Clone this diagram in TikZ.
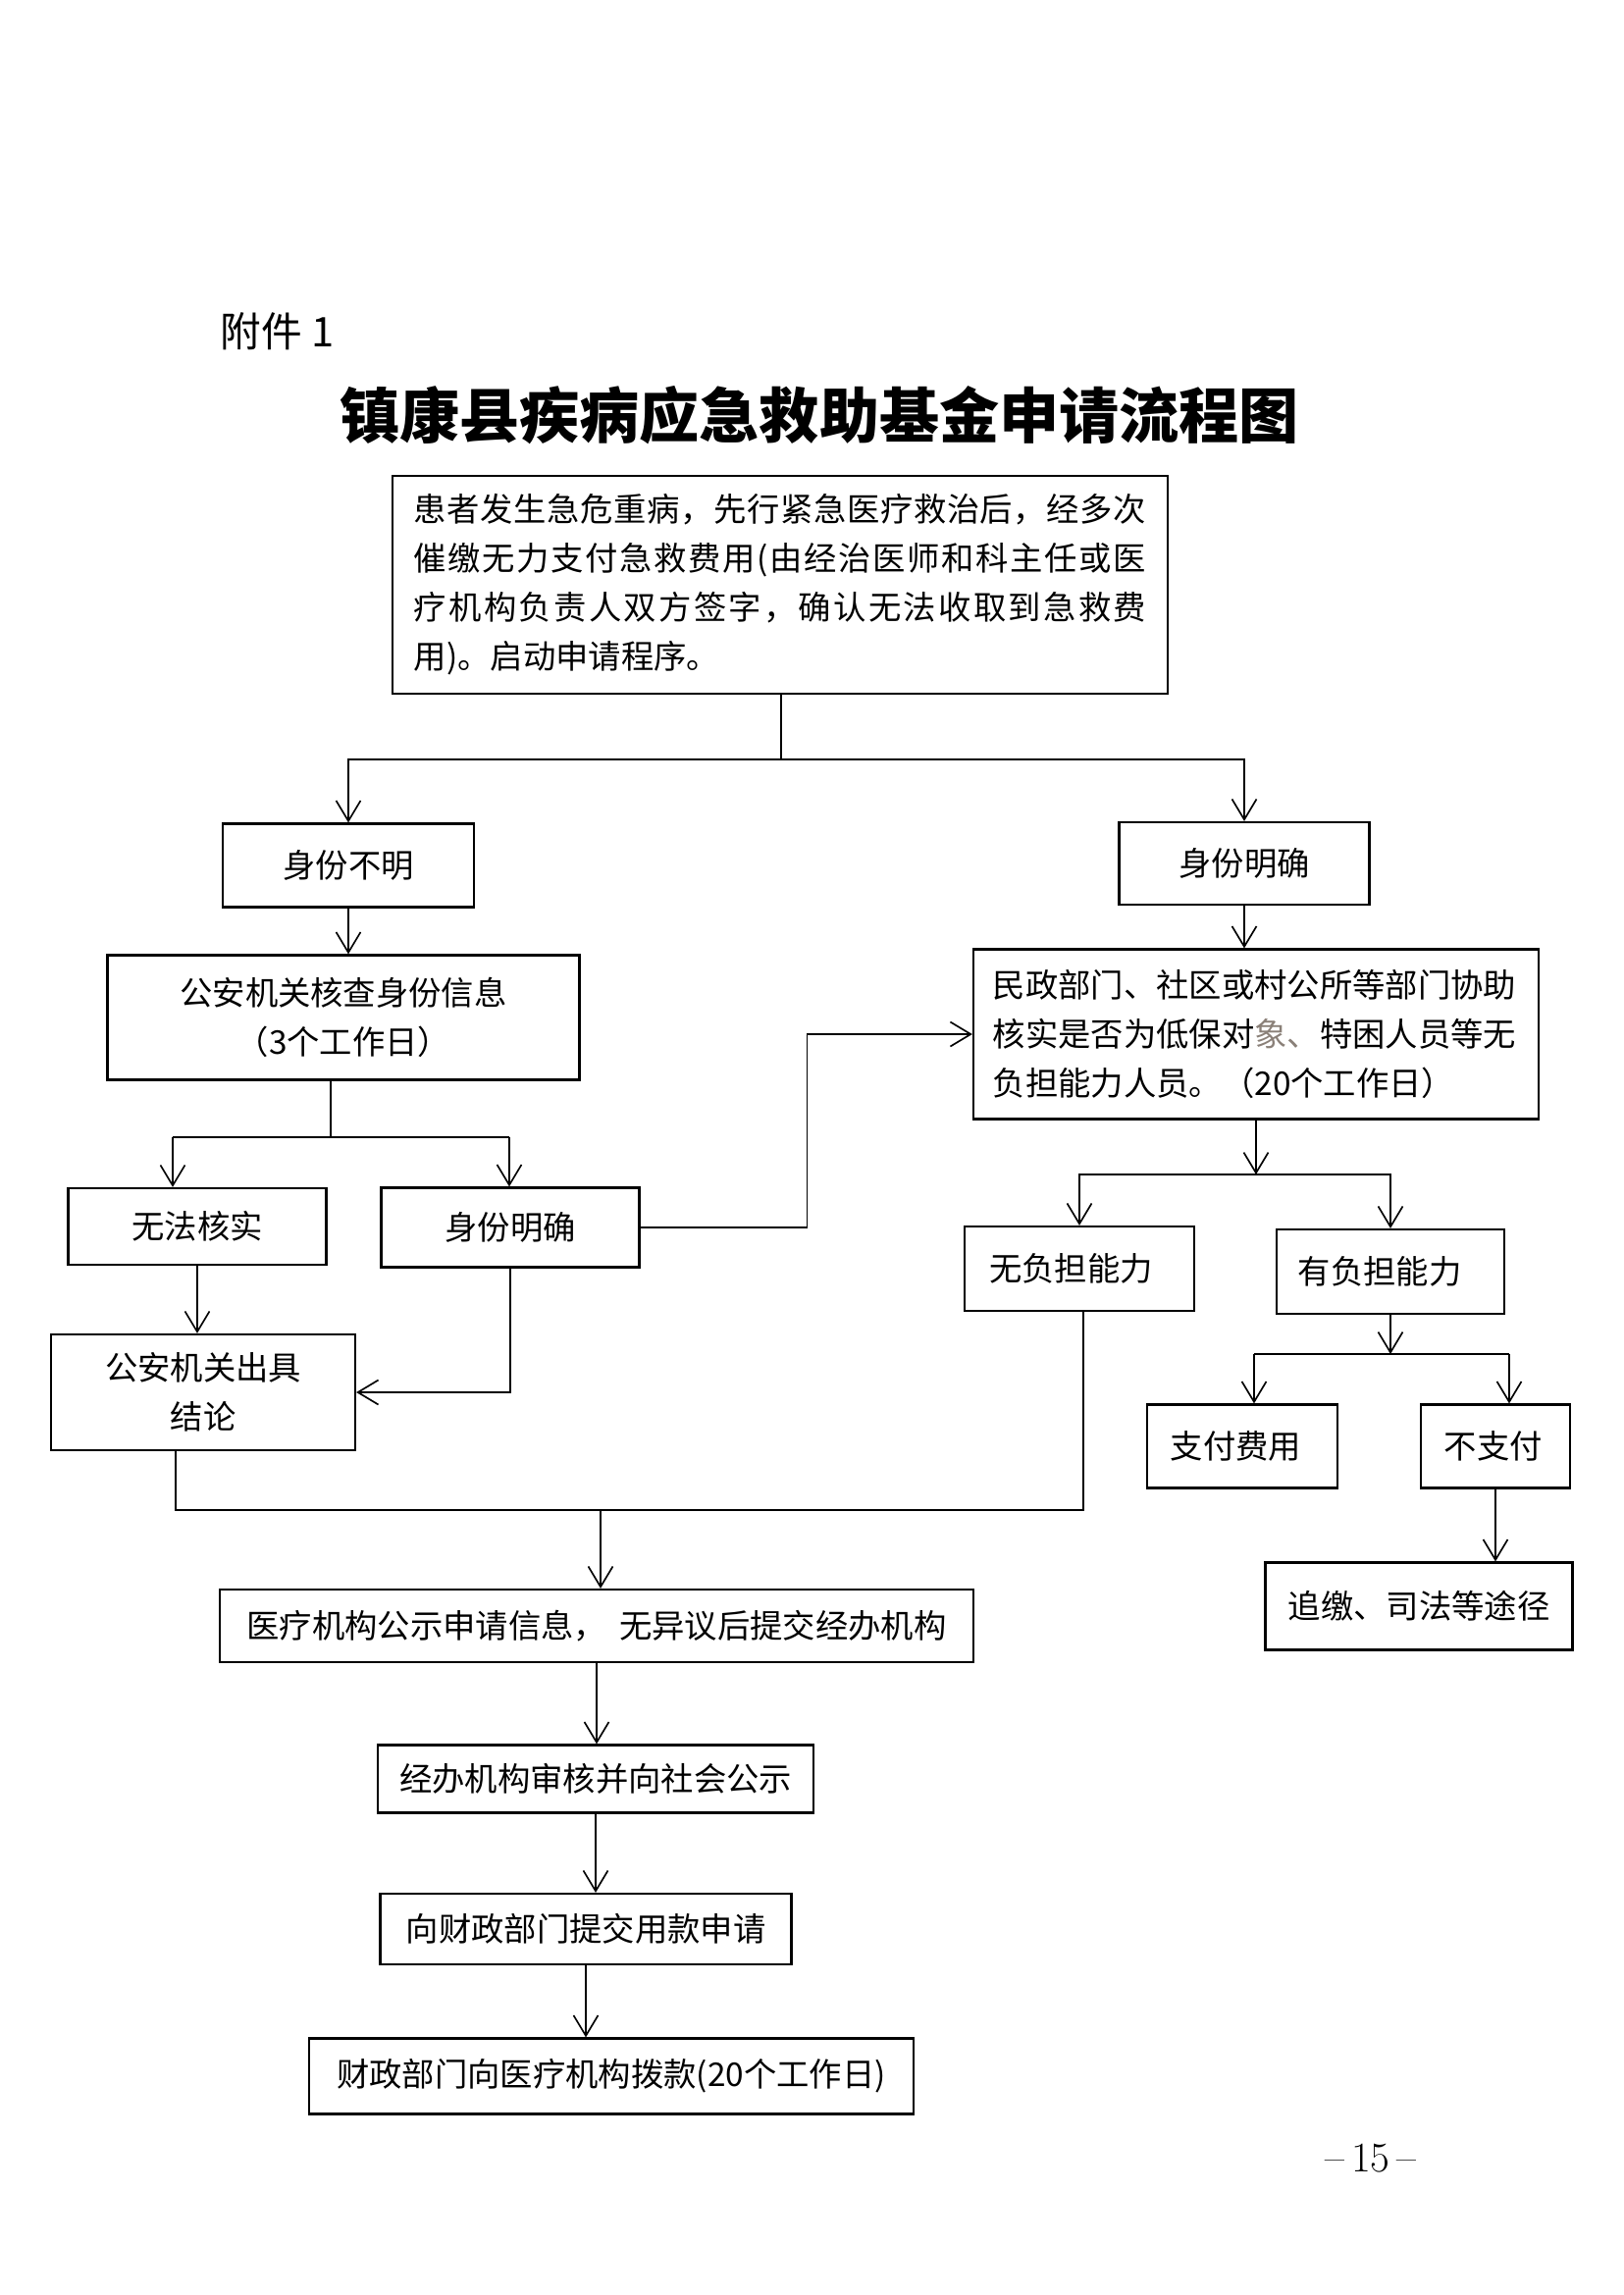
\documentclass[tikz,border=0pt]{standalone}
\usepackage{fontspec}
\newfontfamily\cjk{Noto Sans CJK SC}
\usetikzlibrary{arrows.meta, calc}
\definecolor{fadegrey}{HTML}{8A8078}

% spread the characters of one line over a given width
\makeatletter
\newcommand\spreadline[2]{\makebox[#1][s]{\spread@first#2\relax}}
\def\spread@first#1{#1\spread@rest}
\def\spread@rest#1{\ifx#1\relax\else\hfil#1\expandafter\spread@rest\fi}
\makeatother

\begin{document}
\begin{tikzpicture}[x=0.36pt, y=-0.36pt,
    box/.style={draw, line width=0.8pt, inner sep=0pt, align=center,
                font=\cjk\fontsize{12}{18}\selectfont},
    lbox/.style={box, align=left},
    boxsize/.style 2 args={minimum width=#1*0.36pt, minimum height=#2*0.36pt},
    wire/.style={line width=0.6pt},
    arr/.style={-{Straight Barb[length=7.5pt, width=9pt]}, line width=0.6pt}]
  \useasboundingbox (0,0) rectangle (1654,2339);
  \node[anchor=west, inner sep=0pt, font=\cjk\fontsize{15}{18}\selectfont] (annex) at (224,338) {附件 1};
  \node[font=\cjk\bfseries\fontsize{22}{26}\selectfont] (title) at (835,423) {镇康县疾病应急救助基金申请流程图};
  % start
  \node[lbox, boxsize={790}{222}, text width=268.6pt] (intro) at (795,596)
    {\spreadline{268.6pt}{患者发生急危重病，先行紧急医疗救治后，经多次}\\
     \spreadline{268.6pt}{催缴无力支付急救费用(由经治医师和科主任或医}\\
     \spreadline{268.6pt}{疗机构负责人双方签字，确认无法收取到急救费}\\
     用)。启动申请程序。};
  % left branch
  \node[box, boxsize={256}{85}] (unk) at (355,882) {身份不明};
  \node[box, boxsize={481}{127}] (pol) at (350,1037) {公安机关核查身份信息\\（3个工作日）};
  \node[box, boxsize={263}{78}] (fail) at (201,1250) {无法核实};
  \node[box, boxsize={263}{81}] (idL) at (520,1251) {身份明确};
  \node[box, boxsize={310}{118}] (concl) at (207,1419) {公安机关出具\\结论};
  % right branch
  \node[box, boxsize={255}{84}] (idR) at (1268,880) {身份明确};
  \node[lbox, boxsize={576}{173}, text width=193pt] (civ) at (1280,1054)
    {民政部门、社区或村公所等部门协助\\
     核实是否为低保对{\color{fadegrey}象、}特困人员等无\\
     负担能力人员。（20个工作日）};
  \node[lbox, boxsize={234}{86}, text width=66.2pt] (noab) at (1100,1293) {无负担能力};
  \node[lbox, boxsize={232}{86}, text width=67.7pt] (hasab) at (1417,1296) {有负担能力};
  \node[lbox, boxsize={194}{85}, text width=52.6pt] (pay) at (1266,1474) {支付费用};
  \node[lbox, boxsize={152}{85}, text width=37.5pt] (nopay) at (1524,1474) {不支付};
  \node[box, boxsize={313}{89}] (recov) at (1446,1637) {追缴、司法等途径};
  % common path
  \node[box, boxsize={768}{74}] (pub) at (608,1657) {医疗机构公示申请信息，\hspace{0.4em}无异议后提交经办机构};
  \node[box, boxsize={444}{69}] (agency) at (607,1813) {经办机构审核并向社会公示};
  \node[box, boxsize={419}{72}] (sub) at (597,1966) {向财政部门提交用款申请};
  \node[box, boxsize={616}{77}] (fund) at (623,2116) {财政部门向医疗机构拨款(20个工作日)};
  \node[font=\fontsize{15.5}{18}\selectfont] (page) at (1397,2200) {--\,15\,--};
  % junctions
  \coordinate (split) at (796,774);
  \coordinate (polsplit) at (337,1159);
  \coordinate (failtop) at (176,1159);
  \coordinate (idltop) at (519,1159);
  \coordinate (civsplit) at (1280,1197);
  \coordinate (payl) at (1278,1380);
  \coordinate (payr) at (1538,1380);
  \coordinate (busl) at (179,1539);
  \coordinate (busr) at (1104,1539);
  \coordinate (busm) at (612,1539);
  % connectors
  \draw[wire] (intro.south -| split) -- (split);
  \draw[arr] (split) -| (unk);
  \draw[arr] (split) -| (idR);
  \draw[arr] (unk.south) -- (unk.south |- pol.north);
  \draw[wire] (pol.south -| polsplit) -- (polsplit);
  \draw[wire] (failtop) -- (idltop);
  \draw[arr] (failtop) -- (failtop |- fail.north);
  \draw[arr] (idltop) -- (idltop |- idL.north);
  \draw[arr] (fail.south) -- (fail.south |- concl.north);
  \draw[arr] (idL.south) |- (concl.east);
  \draw[arr] (idL.east) -- ++(170,0) |- (civ.west);
  \draw[arr] (idR.south) -- (idR.south |- civ.north);
  \draw[arr] (civ.south) -- (civsplit);
  \draw[arr] (civsplit) -| (noab);
  \draw[arr] (civsplit) -| (hasab);
  \draw[arr] (hasab.south) -- (hasab.south |- payl);
  \draw[wire] (payl) -- (payr);
  \draw[arr] (payl) -- (payl |- pay.north);
  \draw[arr] (payr) -- (payr |- nopay.north);
  \draw[arr] (nopay.south) -- (nopay.south |- recov.north);
  \draw[wire] (busl |- concl.south) -- (busl) -- (busr) -- (busr |- noab.south);
  \draw[arr] (busm) -- (busm |- pub.north);
  \draw[arr] (pub.south) -- (pub.south |- agency.north);
  \draw[arr] (agency.south) -- (agency.south |- sub.north);
  \draw[arr] (sub.south) -- (sub.south |- fund.north);
\end{tikzpicture}
\end{document}
